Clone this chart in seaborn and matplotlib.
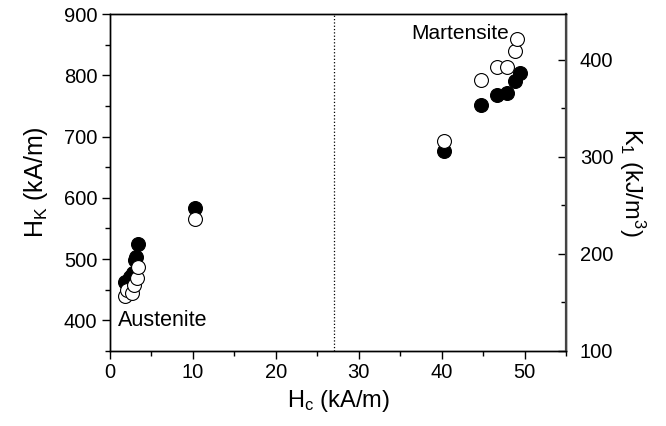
import matplotlib
matplotlib.use("Agg")
import matplotlib.pyplot as plt
import seaborn as sns
import pandas as pd
from matplotlib.ticker import MultipleLocator

sns.set_theme(style="white")
plt.rcParams['font.family'] = ['Liberation Sans', 'DejaVu Sans']
plt.rcParams['mathtext.fontset'] = 'custom'
plt.rcParams['mathtext.rm'] = 'Liberation Sans'
plt.rcParams['mathtext.it'] = 'Liberation Sans'

# Filled circles: anisotropy field H_K (left axis)
hc_hk = [1.8, 2.4, 2.8, 3.0, 3.1, 3.4, 10.2, 40.3, 44.7, 46.7, 47.9, 48.9, 49.4]
hk = [462, 470, 478, 498, 504, 524, 584, 676, 751, 768, 771, 790, 804]

# Open circles: anisotropy constant K1 (right axis)
hc_k1 = [1.8, 2.1, 2.6, 2.9, 3.2, 3.4, 10.2, 40.3, 44.7, 46.7, 47.9, 48.8, 49.1]
k1 = [157, 163, 160, 168, 175, 187, 236, 316, 379, 392, 392, 409, 421]

df_hk = pd.DataFrame({"Hc": hc_hk, "HK": hk})
df_k1 = pd.DataFrame({"Hc": hc_k1, "K1": k1})

boundary_hc = 27

fig = plt.figure(figsize=(6.66, 4.26), dpi=100)
ax = fig.add_axes([110/666, 1-351/426, (566-110)/666, (351-14)/426])
ax2 = ax.twinx()

sns.scatterplot(data=df_hk, x="Hc", y="HK", ax=ax, color="black",
                edgecolor="black", s=100, linewidth=0.8, zorder=3)
sns.scatterplot(data=df_k1, x="Hc", y="K1", ax=ax2, color="white",
                edgecolor="black", s=100, linewidth=0.8, zorder=3)

ax.axvline(boundary_hc, color="black", linestyle=":", linewidth=0.9)

ax.set_xlim(0, 55)
ax.set_ylim(350, 900)
ax2.set_ylim(100, 447)

ax.xaxis.set_major_locator(MultipleLocator(10))
ax.xaxis.set_minor_locator(MultipleLocator(5))
ax.yaxis.set_major_locator(MultipleLocator(100))
ax.yaxis.set_minor_locator(MultipleLocator(50))
ax2.yaxis.set_major_locator(MultipleLocator(100))
ax2.yaxis.set_minor_locator(MultipleLocator(50))

ax.tick_params(axis="both", which="major", direction="out", length=6, width=1,
               labelsize=14.5, color="black", labelcolor="black", pad=3)
ax.tick_params(axis="both", which="minor", direction="out", length=3.5, width=1,
               color="black")
ax.tick_params(axis="x", which="both", bottom=True, top=False)
ax.tick_params(axis="y", which="both", left=True, right=False)
ax2.tick_params(axis="y", which="major", direction="in", length=6, width=1,
                labelsize=14.5, color="black", labelcolor="black", pad=10)
ax2.tick_params(axis="y", which="minor", direction="in", length=3.5, width=1,
                color="black")

for a in (ax, ax2):
    for sp in a.spines.values():
        sp.set_color("black")
        sp.set_linewidth(1.0)
        sp.set_visible(True)
ax2.spines["right"].set_color("#444444")
ax2.spines["right"].set_linewidth(1.6)

ax.set_xlabel(r"H$_\mathregular{c}$ (kA/m)", fontsize=17, color="black", labelpad=4)
ax.set_ylabel(r"H$_\mathregular{K}$ (kA/m)", fontsize=18, color="black", labelpad=10)
ax2.set_ylabel(r"K$_\mathregular{1}$ (kJ/m$^\mathregular{3}$)", fontsize=17,
               color="black", rotation=270, labelpad=24)

ax.text(0.9, 400, "Austenite", fontsize=15.5, color="black", ha="left", va="center")
ax.text(36.3, 868, "Martensite", fontsize=15, color="black", ha="left", va="center")

ax.grid(False)
ax2.grid(False)

fig.savefig("out.png", dpi=100)
